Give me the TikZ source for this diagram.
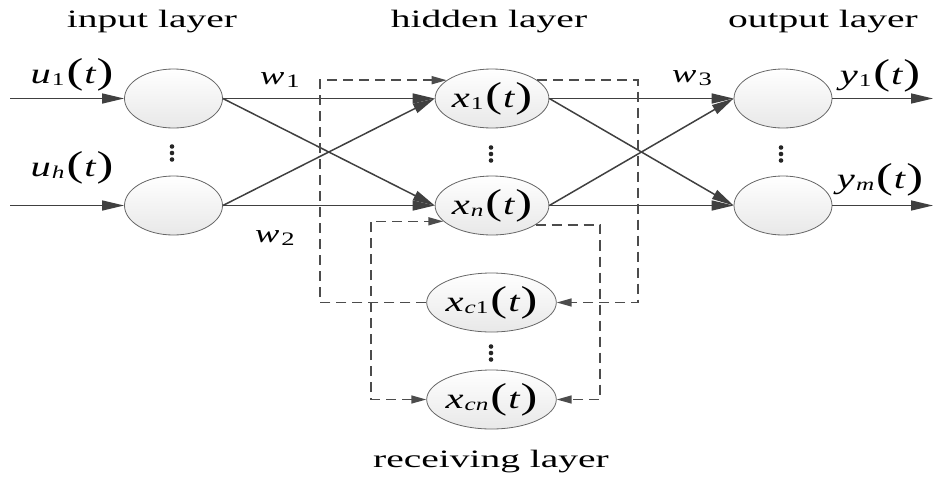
\documentclass[tikz,border=0pt]{standalone}
\usepackage{fontspec}
\setmainfont{Liberation Serif}
\newfontfamily\widefont[FakeStretch=1.58]{Liberation Serif}
\newfontfamily\labfont[FakeStretch=1.4]{Liberation Serif}
\usetikzlibrary{arrows.meta,shapes.geometric}
% variable label: #1 letter, #2 subscript
\newcommand{\vlab}[2]{{\labfont\fontsize{29}{29}\selectfont\itshape #1}\kern1pt\raisebox{-0.5ex}{\labfont\fontsize{18}{18}\selectfont #2}\kern2pt{\labfont\fontsize{36}{36}\selectfont(\kern1pt{\fontsize{29}{29}\selectfont\itshape t}\kern1pt)}}
\newcommand{\wlab}[1]{{\labfont\fontsize{26}{26}\selectfont\itshape w}\kern2pt\raisebox{-0.5ex}{\labfont\fontsize{19}{19}\selectfont #1}}
\begin{document}
\begin{tikzpicture}[x=1pt,y=-1pt,
  neuron/.style={ellipse, draw=black!60, line width=0.8pt, top color=white, bottom color=black!9,
    minimum width=98pt, minimum height=59pt, inner sep=0pt},
  conn/.style={draw=black!75, line width=1.5pt, -{Triangle[length=22pt,width=10pt]}},
  dconn/.style={draw=black!70, line width=1.5pt, dash pattern=on 10pt off 6pt},
  dtip/.style={-{Triangle[length=15pt,width=8pt]}},
  title/.style={font=\widefont\fontsize{25}{25}\selectfont},
  dotc/.style={fill=black!85}]
\useasboundingbox (0,0) rectangle (933,477);

% titles
\node[title] (tin) at (152,22) {input layer};
\node[title] (thid) at (489,22) {hidden layer};
\node[title] (tout) at (823,22) {output layer};
\node[title] (trec) at (491,462) {receiving layer};

% neurons
\node[neuron] (in1) at (173.5,98.5) {};
\node[neuron] (in2) at (173.5,205.5) {};
\node[neuron] (h1) at (492,98.5) {\vlab{x}{1}};
\node[neuron] (hn) at (492,205.5) {\vlab{x}{\textit{n}}};
\node[neuron] (o1) at (783,98.5) {};
\node[neuron] (o2) at (783,205.5) {};
\node[neuron] (c1) at (491.5,302.5) {\vlab{x}{\textit{c}1}};
\node[neuron] (cn) at (491.5,399.5) {\vlab{x}{\textit{cn}}};

% vertical dots
\foreach \x/\y in {172/153, 491/154, 781/154, 491/353}{
  \fill[dotc] (\x,\y-6.5) circle (2.3pt) (\x,\y) circle (2.3pt) (\x,\y+6.5) circle (2.3pt);
}

% input / output labels
\node (lu1) at (72,75) {\vlab{u}{1}};
\node (luh) at (72,168) {\vlab{u}{\textit{h}}};
\node (ly1) at (880,76) {\vlab{y}{1}};
\node (lym) at (880,180) {\vlab{y}{\textit{m}}};
\node (lw1) at (280,80) {\wlab{1}};
\node (lw2) at (275,238) {\wlab{2}};
\node (lw3) at (692,78) {\wlab{3}};

% input and output arrows
\coordinate (s1) at (10,98.5);
\coordinate (s2) at (10,205.5);
\coordinate (e1) at (933,98.5);
\coordinate (e2) at (933,205.5);
\draw[conn] (s1) -- (in1.west);
\draw[conn] (s2) -- (in2.west);
\draw[conn] (o1.east) -- (e1);
\draw[conn] (o2.east) -- (e2);

% input -> hidden
\draw[conn] (in1.east) -- (h1.west);
\draw[conn] (in1.east) -- (hn.west);
\draw[conn] (in2.east) -- (h1.west);
\draw[conn] (in2.east) -- (hn.west);
% hidden -> output
\draw[conn] (h1.east) -- (o1.west);
\draw[conn] (h1.east) -- (o2.west);
\draw[conn] (hn.east) -- (o1.west);
\draw[conn] (hn.east) -- (o2.west);

% context loops
\coordinate (rx) at (638,302.5);
\coordinate (lx) at (320,302.5);
\coordinate (rx2) at (600,399.5);
\coordinate (lx2) at (371,399.5);
\draw[dconn,dtip] (h1.22) -| (rx) -- (c1.east);
\draw[dconn,dtip] (c1.west) -- (lx) |- (h1.158);
\draw[dconn,dtip] (hn.-24) -| (rx2) -- (cn.east);
\draw[dconn,{Triangle[length=15pt,width=8pt]}-{Triangle[length=15pt,width=8pt]}] (cn.west) -- (lx2) |- (hn.198);
\end{tikzpicture}
\end{document}
